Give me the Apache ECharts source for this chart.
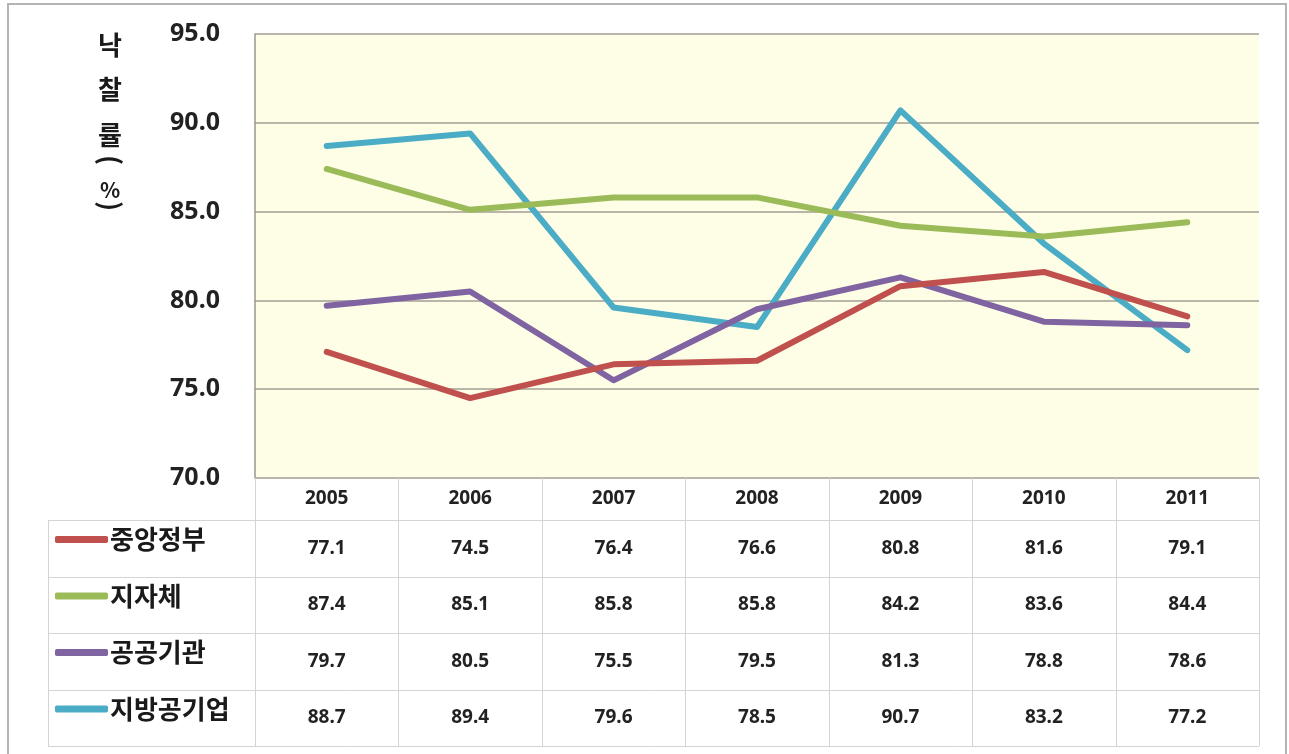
<!DOCTYPE html>
<html>
<head>
<meta charset="utf-8">
<script src="https://cdn.jsdelivr.net/npm/echarts@6/dist/echarts.min.js"></script>
<style>html,body{margin:0;padding:0;background:#fff;}#c{width:1289px;height:754px;}</style>
</head>
<body>
<div id="c"></div>
<script>
// ---- data ----
const categories = ['2005', '2006', '2007', '2008', '2009', '2010', '2011'];
const seriesNames = ['중앙정부', '지자체', '공공기관', '지방공기업'];
const centralGov = [77.1, 74.5, 76.4, 76.6, 80.8, 81.6, 79.1];
const localGov = [87.4, 85.1, 85.8, 85.8, 84.2, 83.6, 84.4];
const publicInst = [79.7, 80.5, 75.5, 79.5, 81.3, 78.8, 78.6];
const localPublicEnt = [88.7, 89.4, 79.6, 78.5, 90.7, 83.2, 77.2];
const yMin = 70, yMax = 95, yInterval = 5;
const yTitleChars = ['낙', '찰', '률', '(', '%', ')'];

// ---- layout / style ----
const seriesValues = [centralGov, localGov, publicInst, localPublicEnt];
const colors = ['#C0504D', '#9BBB59', '#8064A2', '#4BACC6'];
const W = 1289, H = 754;
const plot = { left: 255, right: 1259, top: 34, bottom: 478 };
const tableLeft = 48;
const headerBottom = 520;
const rowBounds = [520, 577, 633, 690, 746];
const headerCenter = (plot.bottom + headerBottom) / 2;
const rowCenters = [];
for (let i = 0; i < 4; i++) rowCenters.push((rowBounds[i] + rowBounds[i + 1]) / 2);
const labelMargin = headerCenter - plot.bottom;
const numFont = { fontFamily: 'Noto Sans', fontWeight: 'bold', fontSize: 19, color: '#222' };
const tableLine = '#d4d4d4';

const xAxes = [{
  type: 'category', data: categories, gridIndex: 0, position: 'bottom', boundaryGap: true,
  axisLine: { show: false }, axisTick: { show: false }, splitLine: { show: false },
  axisLabel: Object.assign({ margin: labelMargin, verticalAlign: 'middle' }, numFont)
}];
seriesValues.forEach((vals, si) => {
  xAxes.push({
    type: 'category', data: categories, gridIndex: 0, position: 'bottom', boundaryGap: true,
    offset: rowCenters[si] - headerCenter,
    axisLine: { show: false }, axisTick: { show: false }, splitLine: { show: false },
    axisLabel: Object.assign({ margin: labelMargin, verticalAlign: 'middle',
      formatter: (v, idx) => vals[idx].toFixed(1) }, numFont)
  });
});

const series = seriesNames.map((n, i) => ({
  name: n, type: 'line', xAxisIndex: 0, yAxisIndex: 0, data: seriesValues[i],
  symbol: 'none', color: colors[i],
  lineStyle: { width: 6, color: colors[i], cap: 'round', join: 'round' },
  itemStyle: { color: colors[i] }, z: 3 + (3 - i)
}));

const legends = seriesNames.map((n, i) => ({
  data: [n], left: 55, top: rowCenters[i] - 22, orient: 'horizontal', padding: 0,
  icon: 'roundRect', itemWidth: 53, itemHeight: 7, selectedMode: false,
  textStyle: { fontFamily: 'Noto Sans CJK KR', fontSize: 26, color: '#1a1a1a', fontWeight: 'bold', padding: [0, 0, 0, -3] }
}));

const graphics = [];
// outer frame
graphics.push({ type: 'rect', shape: { x: 8, y: 4, width: 1278, height: 770 },
  style: { fill: 'none', stroke: '#b4b4b4', lineWidth: 2 }, silent: true, z: 0 });
// table lines
const colW = (plot.right - plot.left) / categories.length;
for (let k = 0; k <= categories.length; k++) {
  const x = Math.round(plot.left + k * colW) + 0.5;
  graphics.push({ type: 'line', shape: { x1: x, y1: plot.bottom, x2: x, y2: rowBounds[4] },
    style: { stroke: tableLine, lineWidth: 1 }, silent: true, z: 1 });
}
rowBounds.forEach(y => {
  graphics.push({ type: 'line', shape: { x1: tableLeft, y1: y + 0.5, x2: plot.right, y2: y + 0.5 },
    style: { stroke: tableLine, lineWidth: 1 }, silent: true, z: 1 });
});
graphics.push({ type: 'line', shape: { x1: tableLeft + 0.5, y1: rowBounds[0], x2: tableLeft + 0.5, y2: rowBounds[4] },
  style: { stroke: tableLine, lineWidth: 1 }, silent: true, z: 1 });
// y-axis title (vertical, parentheses turned)
const titleY = [45, 89, 135, 160, 190, 206];
yTitleChars.forEach((ch, i) => {
  const isParen = ch === '(' || ch === ')';
  graphics.push({ type: 'text', x: 110, y: titleY[i], rotation: isParen ? -Math.PI / 2 : 0, silent: true, z: 5,
    style: { text: ch, fontFamily: 'Noto Sans CJK KR', fontWeight: 'bold',
      fontSize: isParen ? 27 : (ch === '%' ? 21 : 26),
      fill: '#1a1a1a', align: 'center', verticalAlign: 'middle' } });
});

const chart = echarts.init(document.getElementById('c'), null, { renderer: 'canvas' });
chart.setOption({
  backgroundColor: '#ffffff',
  animation: false,
  grid: { left: plot.left, right: W - plot.right, top: plot.top, bottom: H - plot.bottom,
    show: true, backgroundColor: '#FEFEE6', borderWidth: 0 },
  xAxis: xAxes,
  yAxis: {
    type: 'value', min: yMin, max: yMax, interval: yInterval,
    axisLine: { show: true, lineStyle: { color: '#9c968e', width: 1.5 } },
    axisTick: { show: false },
    splitLine: { show: true, lineStyle: { color: '#a39c94', width: 1.5 } },
    axisLabel: { formatter: v => v.toFixed(1), margin: 35, fontFamily: 'Noto Sans',
      fontWeight: 'bold', fontSize: 25, color: '#222' }
  },
  legend: legends,
  series: series,
  graphic: graphics
});
</script>
</body>
</html>
